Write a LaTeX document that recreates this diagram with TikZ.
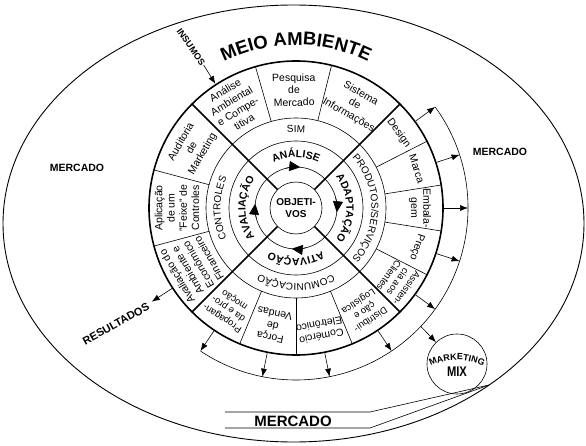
\documentclass[tikz,border=0pt]{standalone}
\usepackage{fontspec}
\setmainfont{Liberation Sans}
\usetikzlibrary{decorations.text,arrows.meta}
\begin{document}
\begin{tikzpicture}[x=1pt,y=1pt,
  thinline/.style={line width=0.6pt},
  thickline/.style={line width=1.6pt},
  seg/.style={font=\fontsize{10.5}{12.3}\selectfont, align=center, inner sep=0pt},
  segs/.style={font=\fontsize{9.5}{11}\selectfont, align=center, inner sep=0pt},
  lbl/.style={font=\bfseries\fontsize{10.5}{12}\selectfont, inner sep=0pt},
  rarrow/.style={line width=0.6pt, -{Latex[length=8pt,width=6pt]}},
  midtext/.style={decorate, decoration={text along path, text align=center, text={|\fontsize{10}{12}\selectfont|#1}}},
  intext/.style={decorate, decoration={text along path, text align=center, text={|\bfseries\fontsize{10.5}{12}\selectfont|#1}}},
  bigtext/.style={decorate, decoration={text along path, text align=center, text={|\bfseries\fontsize{18.5}{20}\selectfont|#1}}},
]
\useasboundingbox (0,0) rectangle (586,445);
\draw[line width=0.9pt] (293.5,221.5) ellipse[x radius=290.5, y radius=218.5];

\begin{scope}[shift={(296,237)}]
  % circles
  \draw[thinline] (0,0) circle[radius=41];
  \draw[thinline] (0,0) circle[radius=67];
  \draw[thinline] (0,0) circle[radius=90];
  \draw[thinline] (36:172) arc[start angle=36,end angle=-123.75,radius=172];
  % thin dividers
  \foreach \a in {76,106,27,9,-9,-27,-67.5,-90,-112.5,165,195}
    \draw[thinline] (\a:90) -- (\a:147);
  % thick lines
  \draw[thickline] (0,0) circle[radius=147];
  \foreach \a in {45,135,225,315}
    \draw[thickline] (\a:26) -- (\a:147);
  \node[draw, thinline, circle, minimum size=52pt, inner sep=0pt, align=center,
        font=\bfseries\fontsize{10}{12}\selectfont] (obj) at (0,0) {OBJETI-\\VOS};
  % circulation arrows
  \foreach \a in {90,0,-90,180}
    \draw[thinline, -{Triangle[length=11pt,width=10pt]}] ({\a+14}:41) arc[start angle={\a+14}, end angle={\a-6}, radius=41];
  % outer segment texts
  \node[seg, rotate=31]  at (121:119) {Análise\\Ambiental\\e Compe-\\titiva};
  \node[seg, rotate=1]   at (91:118)  {Pesquisa\\de\\Mercado};
  \node[seg, rotate=-29.5] at (60.5:119) {Sistema\\de\\Informações};
  \node[seg, rotate=-54] at (36:127) {Design};
  \node[seg, rotate=-72] at (18:127) {Marca};
  \node[seg, rotate=-90] at (0:124) {Embala-\\gem};
  \node[seg, rotate=-108] at (-18:127) {Preço};
  \node[segs, rotate=-126] at (-36:126) {Assisten-\\cia aos\\Clientes};
  \node[segs, rotate=-146.25] at (-56.25:123) {Distribui-\\ção e\\Logística};
  \node[seg, rotate=-168.75] at (-78.75:125) {Comércio\\Eletrônico};
  \node[seg, rotate=168.75] at (-101.25:120) {Força\\de\\Vendas};
  \node[segs, rotate=146.25] at (-123.75:121) {Propagan-\\da e pro-\\moção};
  \node[seg, rotate=120] at (210:119) {Avaliação do\\Ambiente e\\Econômico\\Financeiro};
  \node[seg, rotate=90] at (180:119) {Aplicação\\de um\\"Feixe" de\\Controles};
  \node[seg, rotate=60] at (150:120) {Auditoria\\de\\Marketing};
  % middle ring
  \path[midtext={SIM}] (150:75.5) arc[start angle=150,end angle=30,radius=75.5];
  \path[midtext={PRODUTOS/SERVIÇOS}] (70:75.5) arc[start angle=70,end angle=-70,radius=75.5];
  \path[midtext={COMUNICAÇÃO}] (-20:75.5) arc[start angle=-20,end angle=-160,radius=75.5];
  \path[midtext={CONTROLES}] (250:75.5) arc[start angle=250,end angle=110,radius=75.5];
  % inner ring
  \path[intext={ANÁLISE}] (160:50.5) arc[start angle=160,end angle=20,radius=50.5];
  \path[intext={ADAPTAÇÃO}] (70:50.5) arc[start angle=70,end angle=-70,radius=50.5];
  \path[intext={ATIVAÇÃO}] (-20:50.5) arc[start angle=-20,end angle=-160,radius=50.5];
  \path[intext={AVALIAÇÃO}] (250:50.5) arc[start angle=250,end angle=110,radius=50.5];
  % MEIO AMBIENTE
  \path[bigtext={MEIO AMBIENTE}] (150:163) arc[start angle=150,end angle=30,radius=163];
  % radial arrows
  \foreach \a in {36,18,0,-18,-36,-56.25,-78.75,-101.25,-123.75}
    \draw[rarrow] (\a:147.8) -- (\a:172);
  \draw[rarrow] (213:147.8) -- (213:172);
  \coordinate (mmfrom) at (-43.5:172);
  \coordinate (insto) at (123:148);
\end{scope}

% Marketing mix
\node[draw, thinline, circle, minimum size=60pt, inner sep=0pt] (mm) at (457,81) {};
\path[decorate, decoration={text along path, text align=center,
  text={|\bfseries\fontsize{9}{10}\selectfont|MARKETING}}]
  (427,76.96) arc[start angle=120,end angle=60,radius=60];
\node[xscale=0.8, inner sep=0pt, font=\bfseries\fontsize{14}{14}\selectfont] (mix) at (457,73) {MIX};
\draw[rarrow] (mmfrom) -- (mm);

% labels
\node[lbl] (mercl) at (77,277) {MERCADO};
\node[lbl] (mercr) at (500,293) {MERCADO};
\node[inner sep=0pt, font=\bfseries\fontsize{15}{15}\selectfont] (mercb) at (293,24) {MERCADO};
\node[inner sep=0pt, rotate=29, font=\bfseries\fontsize{11}{12}\selectfont] (res) at (116,121) {RESULTADOS};
\node[inner sep=1pt, rotate=-55, font=\bfseries\fontsize{9}{10}\selectfont] (ins) at (191,398) {INSUMOS};
\draw[rarrow] (ins.east) -- (insto);

% pointer lines to bottom MERCADO
\coordinate (ptr) at (489,60);
\draw[thinline] (225,33) -- (370,33) -- (ptr);
\draw[thinline] (225,17) -- (370,17) -- (ptr);
\end{tikzpicture}
\end{document}
